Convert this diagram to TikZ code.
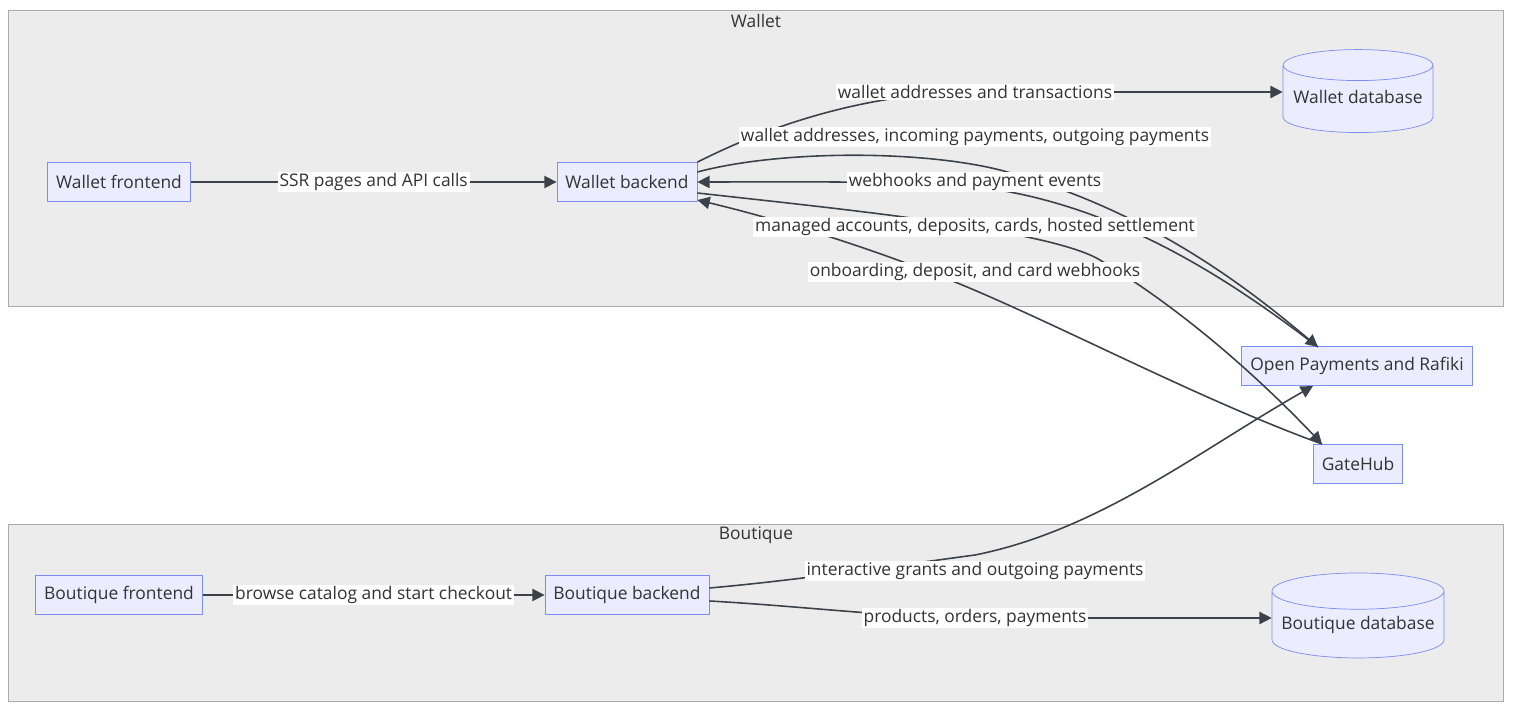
\documentclass[tikz,border=0pt]{standalone}
\usepackage{fontspec}
\setmainfont{Open Sans}
\usetikzlibrary{shapes.geometric,arrows.meta}
\definecolor{clusterbg}{HTML}{ECECEC}
\definecolor{clusterln}{HTML}{AAAAAA}
\definecolor{boxbg}{HTML}{ECECFF}
\definecolor{boxln}{HTML}{7B8CF2}
\definecolor{edge}{HTML}{3B4249}
\definecolor{txt}{HTML}{333333}
\tikzset{
	box/.style={draw=boxln, fill=boxbg, text=txt, minimum height=0.78cm, inner xsep=0.17cm},
	db/.style={cylinder, shape border rotate=90, aspect=0.22, draw=boxln, fill=boxbg, text=txt},
	lbl/.style={fill=white, text=txt, inner sep=1pt},
	flow/.style={draw=edge, line width=0.9pt, -{Triangle[length=7pt,width=7pt]}},
	cluster/.style={draw=clusterln, fill=clusterbg},
}
\newcommand{\dbtext}[1]{\raisebox{5.7pt}{#1}}
\begin{document}
\begin{tikzpicture}[x=0.02cm,y=-0.02cm,font=\fontsize{9.9}{11}\selectfont]
\useasboundingbox (0,0) rectangle (1514,712);
% clusters
\draw[cluster] (8,10) rectangle (1503,306);
\node[text=txt] at (756,21) {Wallet};
\draw[cluster] (8,524) rectangle (1503,701);
\node[text=txt] at (756,535) {Boutique};

% nodes
\node[box] (wf) at (119,182) {Wallet frontend};
\node[box] (wb) at (627,182) {Wallet backend};
\node[db, minimum width=3cm, minimum height=1.66cm] (wdb) at (1358,102) {\dbtext{Wallet database}};
\node[box] (op) at (1357,366) {Open Payments and Rafiki};
\node[box] (gh) at (1358,464) {GateHub};
\node[box] (bf) at (119,595) {Boutique frontend};
\node[box] (bb) at (627,595) {Boutique backend};
\node[db, minimum width=3.44cm, minimum height=1.7cm] (bdb) at (1358,628) {\dbtext{Boutique database}};

% edge anchors
\coordinate (op1) at (1318,347);
\coordinate (op2) at (1313,386);
\coordinate (gh1) at (1322,444);

% wallet edges
\draw[flow] (wf) -- node[lbl] {SSR pages and API calls} (wb);
\draw[flow] (wb.north east) .. controls (800,110) and (900,92) .. (975,92)
	.. controls (1100,92) and (1150,92) .. (wdb.west |- 0,92);
\draw[flow] (wb.east |- 0,172) .. controls (780,150) and (920,150) .. (1000,170)
	.. controls (1150,210) and (1250,290) .. (op1);
\draw[flow] (op1) .. controls (1230,280) and (1100,190) .. (940,184)
	.. controls (850,181) and (760,182) .. (wb.east);
\draw[flow] (wb.east |- 0,193) .. controls (850,210) and (1050,230) .. (1100,260)
	.. controls (1200,320) and (1280,400) .. (gh1);
\draw[flow] (gh1) .. controls (1200,400) and (1050,320) .. (950,280)
	.. controls (850,240) and (760,215) .. (wb.east |- 0,200);
\node[lbl] at (975,92) {wallet addresses and transactions};
\node[lbl] at (975,137) {wallet addresses, incoming payments, outgoing payments};
\node[lbl] at (975,182) {webhooks and payment events};
\node[lbl] at (975,227) {managed accounts, deposits, cards, hosted settlement};
\node[lbl] at (975,272) {onboarding, deposit, and card webhooks};

% boutique edges
\draw[flow] (bf) -- node[lbl] {browse catalog and start checkout} (bb);
\draw[flow] (bb.east |- 0,588) .. controls (800,580) and (900,565) .. (975,555)
	.. controls (1100,530) and (1200,450) .. (op2);
\node[lbl] at (975,571) {interactive grants and outgoing payments};
\draw[flow] (bb.east |- 0,601) .. controls (800,606) and (900,618) .. (975,618)
	-- (bdb.west |- 0,618);
\node[lbl] at (975,618) {products, orders, payments};
\end{tikzpicture}
\end{document}
